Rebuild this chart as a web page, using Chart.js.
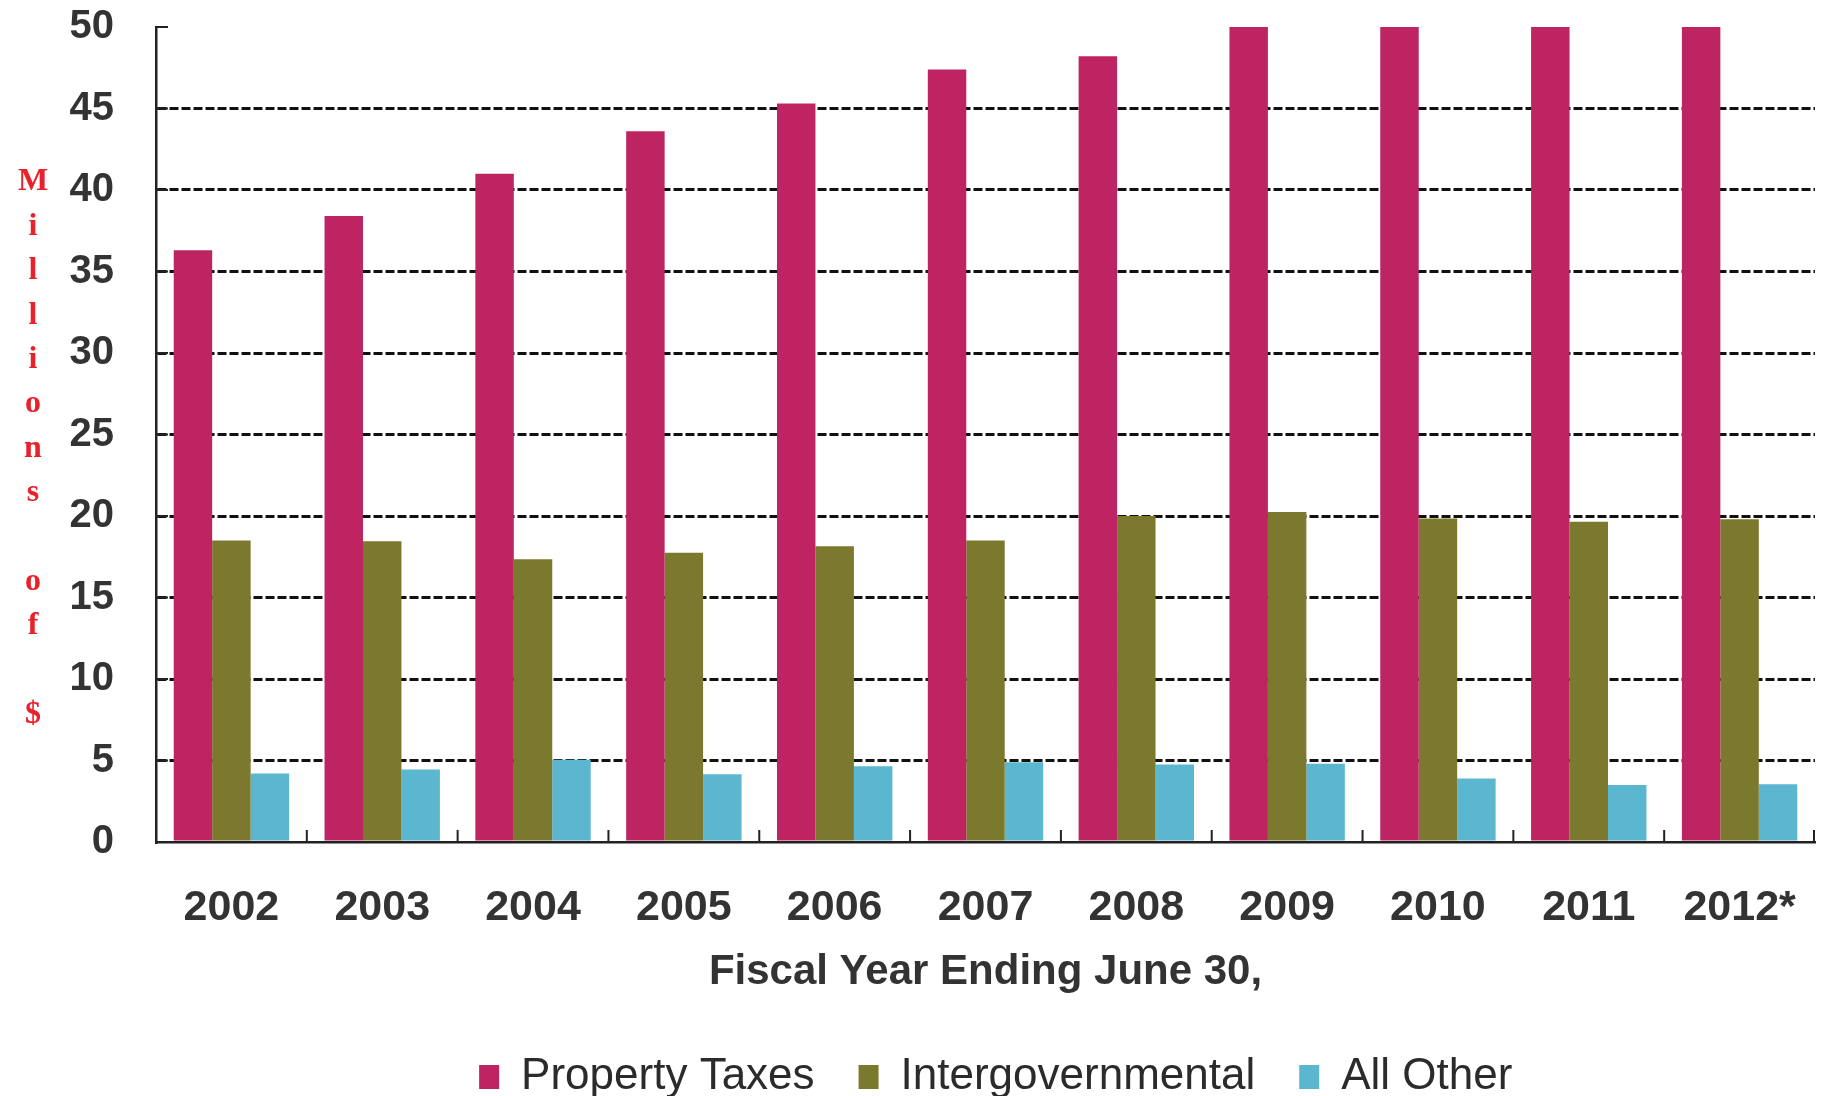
<!DOCTYPE html>
<html>
<head>
<meta charset="utf-8">
<title>Revenue by Source</title>
<script src="https://cdn.jsdelivr.net/npm/chart.js@4/dist/chart.umd.min.js"></script>
<style>
  html, body { margin: 0; padding: 0; background: #fff; }
  #wrap { width: 1824px; height: 1096px; position: relative; }
</style>
</head>
<body>
<div id="wrap"><canvas id="revenueChart"></canvas></div>
<script>
// Fiscal years on the x axis
const years = ['2002', '2003', '2004', '2005', '2006', '2007', '2008', '2009', '2010', '2011', '2012*'];

// Revenue by source, millions of $
const propertyTaxes = [36.3, 38.4, 41.0, 43.6, 45.3, 47.4, 48.2, 50, 50, 50, 50];
const intergovernmental = [18.5, 18.45, 17.35, 17.75, 18.15, 18.5, 20.0, 20.25, 19.85, 19.65, 19.8];
const allOther = [4.2, 4.45, 5.05, 4.15, 4.65, 4.9, 4.75, 4.8, 3.9, 3.5, 3.55];

const yTitle = 'Millions of $';
const xTitle = 'Fiscal Year Ending June 30,';

const sans = '"Liberation Sans", Arial, sans-serif';
const axisColor = '#222';

// Red y axis title, one letter per line
const stackedTitle = {
    id: 'stackedTitle',
    afterDraw(chart) {
        const { ctx, chartArea } = chart;
        const chars = Array.from(yTitle);
        const step = 44.4;
        const mid = (chartArea.top + chartArea.bottom) / 2 + 14;
        ctx.save();
        ctx.font = 'bold 32px "Liberation Serif", "Times New Roman", serif';
        ctx.fillStyle = '#e8212b';
        ctx.textAlign = 'center';
        ctx.textBaseline = 'middle';
        chars.forEach((c, i) => {
            ctx.fillText(c, 33, mid + (i - (chars.length - 1) / 2) * step);
        });
        ctx.restore();
    }
};

// Short tick marks pointing into the plot: at category edges on x, at each step on y
const innerTicks = {
    id: 'innerTicks',
    afterDatasetsDraw(chart) {
        const { ctx, chartArea, scales: { x, y } } = chart;
        const len = 12;
        ctx.save();
        ctx.strokeStyle = axisColor;
        ctx.lineWidth = 2;
        ctx.beginPath();
        for (let i = 0; i < x.ticks.length; i++) {
            const px = i < x.ticks.length - 1
                ? (x.getPixelForTick(i) + x.getPixelForTick(i + 1)) / 2
                : chartArea.right - 1;
            ctx.moveTo(px, chartArea.bottom);
            ctx.lineTo(px, chartArea.bottom - len);
        }
        y.ticks.forEach((t, i) => {
            if (t.value === 0) return;
            const py = y.getPixelForTick(i);
            ctx.moveTo(chartArea.left, py);
            ctx.lineTo(chartArea.left + len, py);
        });
        ctx.stroke();
        ctx.restore();
    }
};

// The legend row sits a little right of the page centre
const legendShift = {
    id: 'legendShift',
    afterLayout(chart) {
        const lg = chart.legend;
        if (!lg) return;
        lg.left += 55;
        lg.right += 55;
    }
};

const config = {
    type: 'bar',
    data: {
        labels: years,
        datasets: [
            { label: 'Property Taxes', data: propertyTaxes, backgroundColor: '#be2462' },
            { label: 'Intergovernmental', data: intergovernmental, backgroundColor: '#7b792e' },
            { label: 'All Other', data: allOther, backgroundColor: '#5ab7cf' }
        ]
    },
    options: {
        responsive: true,
        maintainAspectRatio: false,
        animation: false,
        categoryPercentage: 0.765,
        barPercentage: 1.0,
        layout: { padding: { top: 0, right: 9, left: 66.5, bottom: -13 } },
        plugins: {
            tooltip: { enabled: false },
            legend: {
                position: 'bottom',
                labels: {
                    font: { family: sans, size: 44 },
                    color: '#2b2b2b',
                    boxWidth: 20,
                    boxHeight: 24,
                    padding: 44
                }
            }
        },
        scales: {
            x: {
                grid: {
                    drawOnChartArea: false,
                    tickLength: 30,
                    tickColor: 'rgba(0,0,0,0)'
                },
                border: { color: axisColor, width: 2.5, z: 1 },
                ticks: {
                    font: { family: sans, size: 43, weight: 'bold' },
                    color: '#333',
                    padding: 10
                },
                title: {
                    display: true,
                    text: xTitle,
                    font: { family: sans, size: 42, weight: 'bold' },
                    color: '#333',
                    padding: { top: 4, bottom: 13 }
                }
            },
            y: {
                min: 0,
                max: 50,
                ticks: {
                    stepSize: 5,
                    font: { family: sans, size: 40, weight: 'bold' },
                    color: '#333',
                    padding: 3
                },
                grid: {
                    color: ctx => (ctx.tick && (ctx.tick.value === 0 || ctx.tick.value === 50)) ? 'rgba(0,0,0,0)' : '#111',
                    lineWidth: 3,
                    tickLength: 39,
                    tickColor: 'rgba(0,0,0,0)'
                },
                border: { color: axisColor, width: 2.5, dash: [9, 3], z: 1 }
            }
        }
    },
    plugins: [stackedTitle, innerTicks, legendShift]
};

const ctx = document.getElementById('revenueChart').getContext('2d');
const revenueChart = new Chart(ctx, config);
</script>
</body>
</html>
